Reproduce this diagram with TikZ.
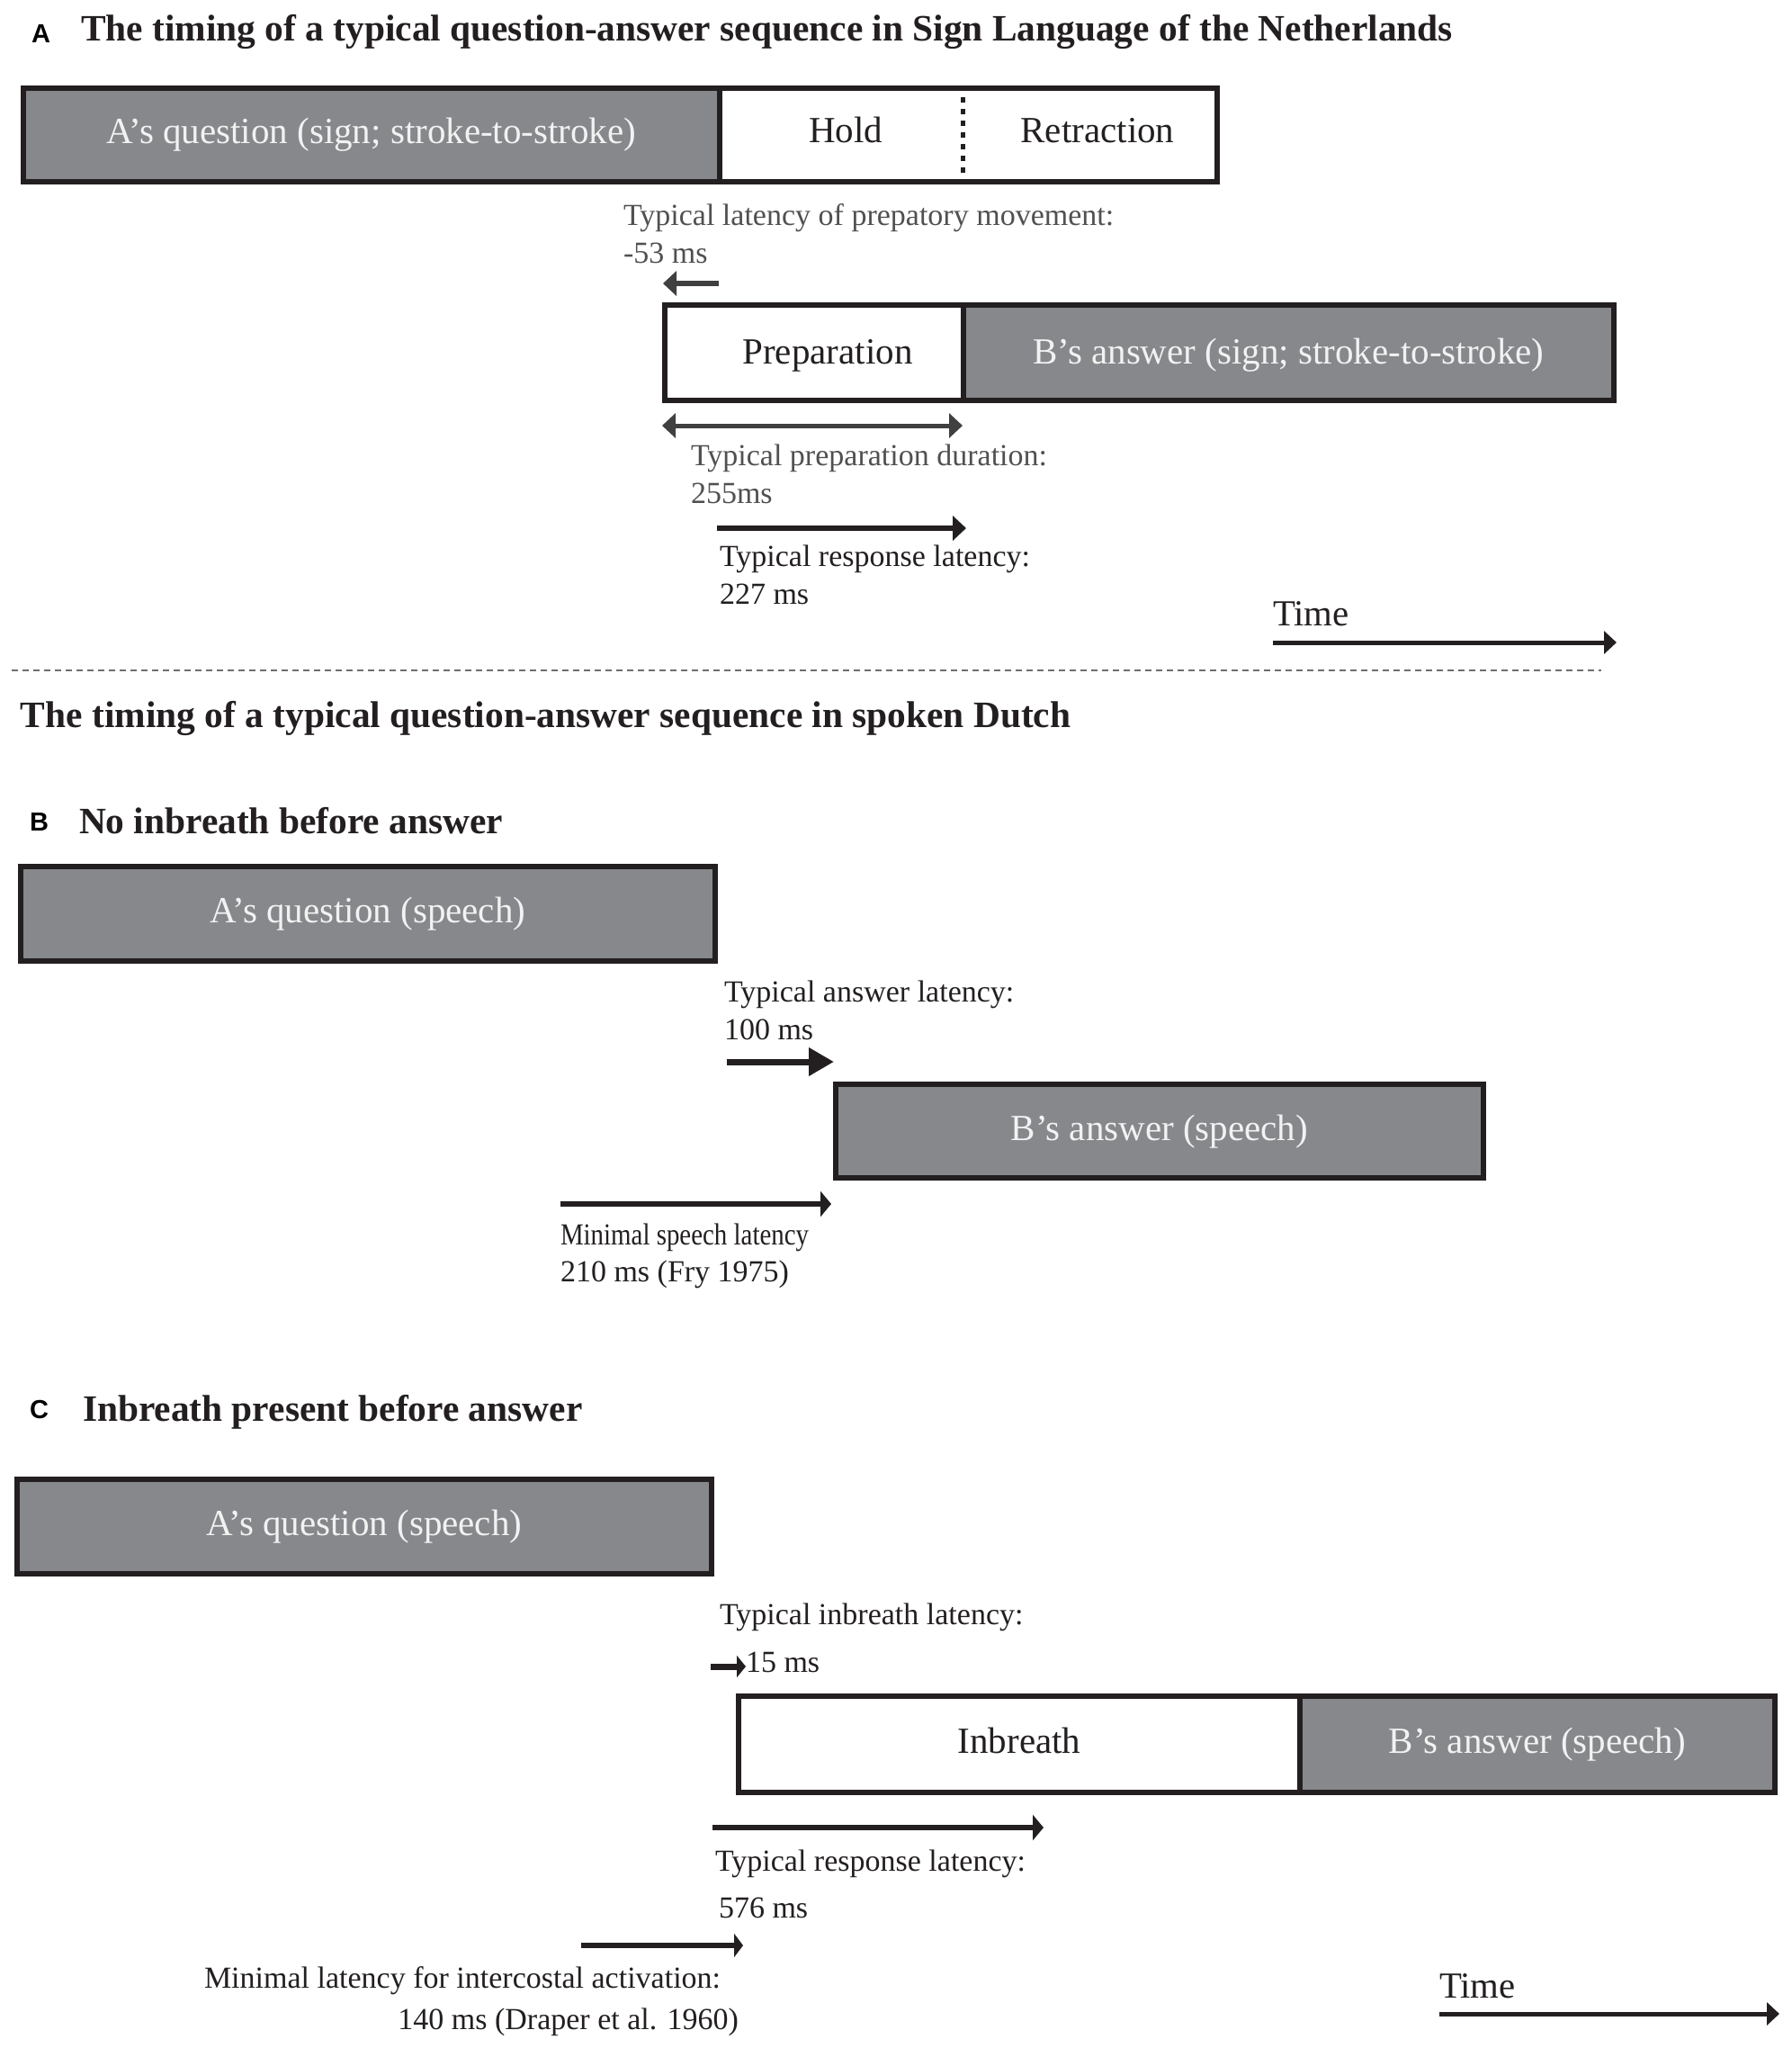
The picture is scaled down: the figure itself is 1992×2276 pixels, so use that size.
\documentclass[tikz,border=0pt]{standalone}
\usepackage{fontspec}
\usepackage{graphicx}
\setmainfont{Liberation Serif}
\newfontfamily\labelfont{Liberation Sans}
\usetikzlibrary{arrows.meta}
\definecolor{boxgray}{RGB}{134,136,139}
\definecolor{ink}{RGB}{35,31,32}
\definecolor{annotgray}{RGB}{80,80,80}
\definecolor{arrowgray}{RGB}{64,64,64}
\definecolor{boxtext}{RGB}{242,242,242}
\definecolor{dashgray}{RGB}{110,110,110}
\begin{document}
\begin{tikzpicture}[x=0.5pt,y=-0.5pt,
  every node/.style={inner sep=0pt,outer sep=0pt},
  seg/.style={draw=ink,line width=3pt,text height=15pt,text depth=5pt,
    font=\fontsize{20.5}{24}\selectfont},
  grayseg/.style={seg,fill=boxgray,text=boxtext},
  whiteseg/.style={seg,fill=white,text=ink},
  boxword/.style={font=\fontsize{20.5}{24}\selectfont,text=ink,anchor=base},
  paneltitle/.style={font=\fontsize{20.7}{24}\selectfont\bfseries,text=ink,anchor=base west},
  panelletter/.style={font=\labelfont\fontsize{14.5}{16}\selectfont\bfseries,text=black,anchor=base west},
  note/.style={font=\fontsize{17}{20}\selectfont,text=ink,anchor=base west},
  notegray/.style={note,text=annotgray},
  timeword/.style={font=\fontsize{20.4}{24}\selectfont,text=ink,anchor=base west},
  latarrow/.style={draw=ink,line width=3pt,-{Triangle[length=7.5pt,width=13.5pt]}},
  bigarrow/.style={draw=ink,line width=3.5pt,-{Triangle[length=14pt,width=15pt]}},
  timearrow/.style={draw=ink,line width=2.5pt,-{Triangle[length=7pt,width=12.5pt]}},
]
\useasboundingbox[fill=white] (0,0) rectangle (1992,2276);

% ---------------- Panel A ----------------
\node[panelletter] (lA) at (35,47) {A};
\node[paneltitle] (tA) at (90,45) {The timing of a typical question-answer sequence in Sign Language of the Netherlands};

\node[grayseg,minimum width=387pt,minimum height=52pt,text height=14.5pt,text depth=5.5pt] (aq) at (413,150) {A’s question (sign; stroke-to-stroke)};
\node[whiteseg,minimum width=276.5pt,minimum height=52pt] (hr) at (1076.5,150) {};
\node[boxword] (hold) at (940,158) {Hold};
\node[boxword] (retr) at (1220,158) {Retraction};
\draw[ink,line width=2.5pt,dash pattern=on 3pt off 3.5pt] (1070,108) -- (1070,194);

\node[notegray] (lat1) at (693,250) {Typical latency of prepatory movement:};
\node[notegray] (lat2) at (693,292) {-53 ms};
\coordinate (la1) at (799,315);
\coordinate (la2) at (737,315);
\draw[latarrow,draw=arrowgray] (la1) -- (la2);

\node[whiteseg,minimum width=166pt,minimum height=53pt] (prep) at (905,392) {};
\node[boxword] (preptext) at (920,404) {Preparation};
\node[grayseg,minimum width=361.5pt,minimum height=53pt,text height=16pt,text depth=4pt] (bans) at (1432.5,392) {B’s answer (sign; stroke-to-stroke)};

\coordinate (pd1) at (736,473);
\coordinate (pd2) at (1070,473);
\draw[draw=arrowgray,line width=2.5pt,{Triangle[length=7.5pt,width=13.5pt]}-{Triangle[length=7.5pt,width=13.5pt]}] (pd1) -- (pd2);
\node[notegray] (pdur1) at (768,517) {Typical preparation duration:};
\node[notegray] (pdur2) at (768,559) {255ms};

\coordinate (rl1) at (797,587);
\coordinate (rl2) at (1074,587);
\draw[latarrow] (rl1) -- (rl2);
\node[note] (rlat1) at (800,629) {Typical response latency:};
\node[note] (rlat2) at (800,671) {227 ms};

\node[timeword] (timeA) at (1415,695) {Time};
\coordinate (ta1) at (1415,714);
\coordinate (ta2) at (1797,714);
\draw[timearrow] (ta1) -- (ta2);

\draw[dashgray,line width=1pt,dash pattern=on 3.5pt off 2.5pt] (13,745) -- (1780,745);

\node[paneltitle] (tDutch) at (23,808) {The timing of a typical question-answer sequence in spoken Dutch};

% ---------------- Panel B ----------------
\node[panelletter] (lB) at (33,923) {B};
\node[paneltitle] (tB) at (88,926) {No inbreath before answer};

\node[grayseg,minimum width=386pt,minimum height=52.5pt] (aqB) at (409,1015.5) {A’s question (speech)};

\node[note] (al1) at (805,1113) {Typical answer latency:};
\node[note] (al2) at (805,1155) {100 ms};
\coordinate (ab1) at (808,1180);
\coordinate (ab2) at (927,1180);
\draw[bigarrow] (ab1) -- (ab2);

\node[grayseg,minimum width=360pt,minimum height=52pt] (baB) at (1289,1257) {B’s answer (speech)};

\coordinate (ms1) at (623,1338);
\coordinate (ms2) at (924,1338);
\draw[latarrow,-{Triangle[length=6pt,width=14pt]}] (ms1) -- (ms2);
\node[note] (msl1) at (623,1383) {\scalebox{0.85}[1]{Minimal speech latency}};
\node[note] (msl2) at (623,1424) {210 ms (Fry 1975)};

% ---------------- Panel C ----------------
\node[panelletter] (lC) at (33,1576) {C};
\node[paneltitle] (tC) at (92,1579) {Inbreath present before answer};

\node[grayseg,minimum width=386pt,minimum height=52.5pt] (aqC) at (405,1696.5) {A’s question (speech)};

\node[note] (il1) at (800,1805) {Typical inbreath latency:};
\coordinate (ib1) at (790,1852);
\coordinate (ib2) at (829,1852);
\draw[latarrow,line width=3.5pt,-{Triangle[length=5pt,width=12pt]}] (ib1) -- (ib2);
\node[note] (il2) at (829,1858) {15 ms};

\node[whiteseg,minimum width=312pt,minimum height=53.5pt] (inb) at (1133,1938.5) {Inbreath};
\node[grayseg,minimum width=264pt,minimum height=53.5pt] (baC) at (1709,1938.5) {B’s answer (speech)};

\coordinate (rc1) at (792,2031);
\coordinate (rc2) at (1160,2031);
\draw[latarrow,-{Triangle[length=6pt,width=14pt]}] (rc1) -- (rc2);
\node[note] (rcl1) at (795,2079) {Typical response latency:};
\node[note] (rcl2) at (799,2131) {576 ms};

\coordinate (ic1) at (646,2162);
\coordinate (ic2) at (826,2162);
\draw[latarrow,-{Triangle[length=5pt,width=13pt]}] (ic1) -- (ic2);
\node[note] (icl1) at (227,2209) {Minimal latency for intercostal activation:};
\node[note,anchor=base east] (icl2) at (821,2255) {140 ms (Draper et al. 1960)};

\node[timeword] (timeC) at (1600,2220) {Time};
\coordinate (tc1) at (1600,2238);
\coordinate (tc2) at (1978,2238);
\draw[timearrow] (tc1) -- (tc2);
\end{tikzpicture}
\end{document}
